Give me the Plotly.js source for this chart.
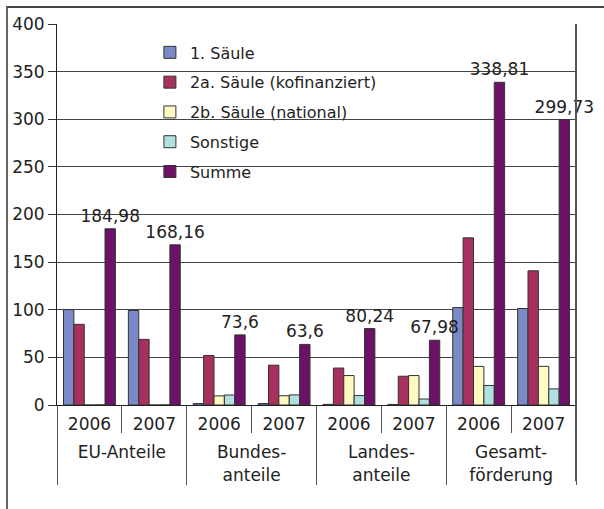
<!DOCTYPE html>
<html>
<head>
<meta charset="utf-8">
<script src="https://cdn.plot.ly/plotly-3.0.1.min.js"></script>
<style>
  html, body { margin: 0; padding: 0; background: #fff; overflow: hidden; }
  #wrap { position: relative; width: 604px; height: 509px; }
  #chart { position: absolute; left: 0; top: 0; width: 604px; height: 509px; }
  #frame { position: absolute; left: 6px; top: 6px; width: 700px; height: 700px;
           border-left: 2px solid #666; border-top: 2px solid #444; pointer-events: none; }
</style>
</head>
<body>
<div id="wrap">
  <div id="chart"></div>
  <div id="frame"></div>
</div>
<script>
// Categories (two-level)
const groups = ['EU-Anteile', 'EU-Anteile', 'Bundes-<br>anteile', 'Bundes-<br>anteile',
                'Landes-<br>anteile', 'Landes-<br>anteile', 'Gesamt-<br>förderung', 'Gesamt-<br>förderung'];
const years = ['2006', '2007', '2006', '2007', '2006', '2007', '2006', '2007'];

// Series values (Mio. €)
const saeule1   = [100.2, 99.2, 1.5, 1.5, 0.64, 0.6, 102.3, 101.3];
const saeule2a  = [84.7, 68.9, 52.0, 41.8, 38.8, 30.2, 175.5, 140.9];
const saeule2b  = [0, 0, 9.6, 9.7, 30.9, 30.9, 40.5, 40.6];
const sonstige  = [0.08, 0.06, 10.5, 10.6, 9.9, 6.3, 20.5, 16.9];
const summe     = [184.98, 168.16, 73.6, 63.6, 80.24, 67.98, 338.81, 299.73];

const seriesNames = ['1. Säule', '2a. Säule (kofinanziert)', '2b. Säule (national)', 'Sonstige', 'Summe'];
const seriesData = [saeule1, saeule2a, saeule2b, sonstige, summe];
const seriesColors = ['#7b89c6', '#a8305f', '#fff9c2', '#b2e0df', '#6b1266'];

// taller invisible padding around the year labels -> more room between the two label rows
const pad = '<span style="font-size:26px">\u00a0</span>';
const x = [groups, years.map(y => pad + y + pad)];

const traces = seriesData.map((vals, i) => {
  const t = {
    type: 'bar',
    name: seriesNames[i],
    legendgroup: 'g' + i,
    x: x,
    y: vals,
    marker: { color: seriesColors[i], line: { color: '#333', width: 1 } },
    hoverinfo: 'y+name'
  };
  if (i === 4) {
    t.text = vals.map(v => String(v).replace('.', ','));
    t.textposition = 'outside';
    t.constraintext = 'none';
    t.cliponaxis = false;
    t.textfont = { family: 'DejaVu Sans', size: 17, color: '#222' };
  }
  return t;
});

const layout = {
  width: 604,
  height: 509,
  margin: { l: 57, r: 28, t: 24, b: 104 },
  paper_bgcolor: '#fff',
  plot_bgcolor: '#fff',
  font: { family: 'DejaVu Sans', size: 17, color: '#222' },
  barmode: 'group',
  bargap: 0.2,
  bargroupgap: 0,
  showlegend: true,
  legend: {
    x: 0.179, y: 0.97, xanchor: 'left', yanchor: 'top',
    bgcolor: 'rgba(0,0,0,0)',
    font: { family: 'DejaVu Sans', size: 16, color: '#222' },
    tracegroupgap: 6,
    traceorder: 'grouped'
  },
  xaxis: {
    type: 'multicategory',
    showline: true, linecolor: '#222', linewidth: 1,
    ticks: 'outside', ticklen: 27, tickcolor: '#555', tickwidth: 1,
    tickson: 'boundaries',
    tickangle: 0,
    ticklabelstandoff: 4,
    showdividers: true, dividercolor: '#555', dividerwidth: 1,
    tickfont: { family: 'DejaVu Sans', size: 17, color: '#222' },
    showgrid: false
  },
  yaxis: {
    range: [0, 400],
    dtick: 50,
    showline: true, linecolor: '#222', linewidth: 1,
    mirror: false,
    ticks: 'outside', ticklen: 8, tickcolor: '#333',
    gridcolor: '#444', gridwidth: 1,
    zeroline: true, zerolinecolor: '#222', zerolinewidth: 1,
    tickfont: { family: 'DejaVu Sans', size: 17, color: '#222' }
  },
  shapes: [
    { type: 'line', xref: 'paper', yref: 'paper', x0: 1, x1: 1, y0: 1, y1: -0.2,
      line: { color: '#555', width: 2 } }
  ]
};

Plotly.newPlot('chart', traces, layout, { displayModeBar: false, staticPlot: true });
</script>
</body>
</html>
